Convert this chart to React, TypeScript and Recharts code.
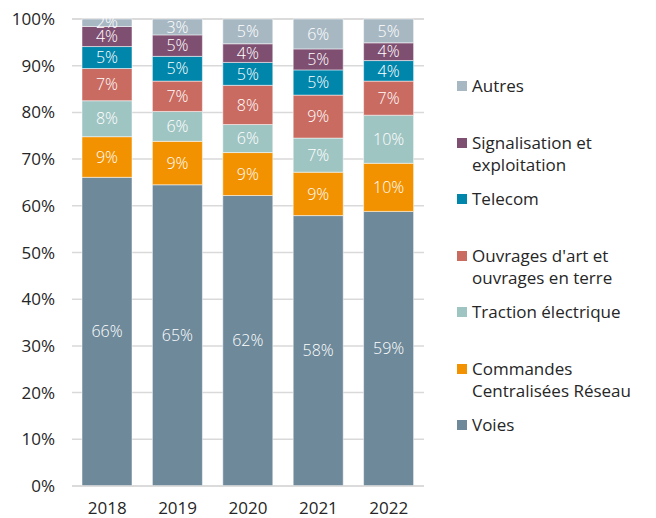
import React from 'react';
import { BarChart, Bar, XAxis, YAxis, CartesianGrid, Legend, LabelList } from 'recharts';

const years = ['2018', '2019', '2020', '2021', '2022'];
const voies = [66.1, 64.5, 62.2, 57.9, 58.8];
const commandes = [8.7, 9.3, 9.2, 9.3, 10.3];
const traction = [7.7, 6.4, 6.0, 7.3, 10.3];
const ouvrages = [6.9, 6.5, 8.4, 9.2, 7.3];
const telecom = [4.7, 5.3, 4.9, 5.4, 4.4];
const signalisation = [4.3, 4.6, 4.0, 4.5, 3.8];
const autres = [1.6, 3.4, 5.3, 6.4, 5.1];
const yTicks = [0, 10, 20, 30, 40, 50, 60, 70, 80, 90, 100];

const series = [
  { key: 'voies', name: 'Voies', legend: 'Voies', values: voies, color: '#6d899a' },
  { key: 'commandes', name: 'Commandes Centralisées Réseau', legend: 'Commandes\nCentralisées Réseau', values: commandes, color: '#f39200' },
  { key: 'traction', name: 'Traction électrique', legend: 'Traction électrique', values: traction, color: '#9fc5c3' },
  { key: 'ouvrages', name: "Ouvrages d'art et ouvrages en terre", legend: "Ouvrages d'art et\nouvrages en terre", values: ouvrages, color: '#c96b61' },
  { key: 'telecom', name: 'Telecom', legend: 'Telecom', values: telecom, color: '#0086ab' },
  { key: 'signalisation', name: 'Signalisation et exploitation', legend: 'Signalisation et\nexploitation', values: signalisation, color: '#7f4f72' },
  { key: 'autres', name: 'Autres', legend: 'Autres', values: autres, color: '#a7b8c3' },
];

const data = years.map((y, i) => {
  const row: any = { year: y };
  series.forEach((s) => {
    row[s.key] = s.values[i];
  });
  return row;
});

const FONT = '"Open Sans", "DejaVu Sans", sans-serif';

const renderLegend = () => {
  const items = [...series].reverse();
  return (
    <div style={{ fontFamily: FONT, fontSize: 17, color: '#262626' }}>
      {items.map((s) => (
        <div key={s.key} style={{ height: 56.5, display: 'flex', alignItems: 'flex-start' }}>
          <span style={{ width: 10, height: 10, background: s.color, marginTop: 6, marginRight: 5, flexShrink: 0, display: 'inline-block' }} />
          <span style={{ lineHeight: '22px', whiteSpace: 'pre-line' }}>{s.legend}</span>
        </div>
      ))}
    </div>
  );
};

export default function App() {
  return (
    <div style={{ position: 'absolute', left: 0, top: 0, width: 656, height: 518, background: '#fff', fontFamily: FONT }}>
      <BarChart width={656} height={518} data={data} margin={{ top: 19, right: 232, bottom: 0, left: 0 }}>
        <CartesianGrid vertical={false} stroke="#d9d9d9" strokeWidth={1.5} />
        <XAxis
          dataKey="year"
          height={32}
          tickLine={false}
          tickSize={0}
          tickMargin={16}
          axisLine={{ stroke: '#d9d9d9', strokeWidth: 1.5 }}
          tick={{ fill: '#262626', fontSize: 17, fontFamily: FONT }}
        />
        <YAxis
          width={72}
          domain={[0, 100]}
          ticks={yTicks}
          tickFormatter={(v: number) => `${v}%`}
          axisLine={false}
          tickLine={false}
          tickSize={0}
          tickMargin={17}
          interval={0}
          tick={{ fill: '#262626', fontSize: 17, fontFamily: FONT }}
        />
        <Legend layout="vertical" align="center" verticalAlign="middle" content={renderLegend} wrapperStyle={{ left: 457, top: 75, width: 199, height: 'auto' }} />
        {series.map((s) => (
          <Bar key={s.key} dataKey={s.key} name={s.name} stackId="a" fill={s.color} barSize={50} stroke="#ffffff" strokeWidth={0.5} isAnimationActive={false}>
            <LabelList
              dataKey={s.key}
              position="center"
              fill="#ffffff"
              fontSize={16}
              fontWeight={300}
              fontFamily={FONT}
              formatter={(v: any) => `${Math.round(Number(v))}%`}
            />
          </Bar>
        ))}
      </BarChart>
    </div>
  );
}
